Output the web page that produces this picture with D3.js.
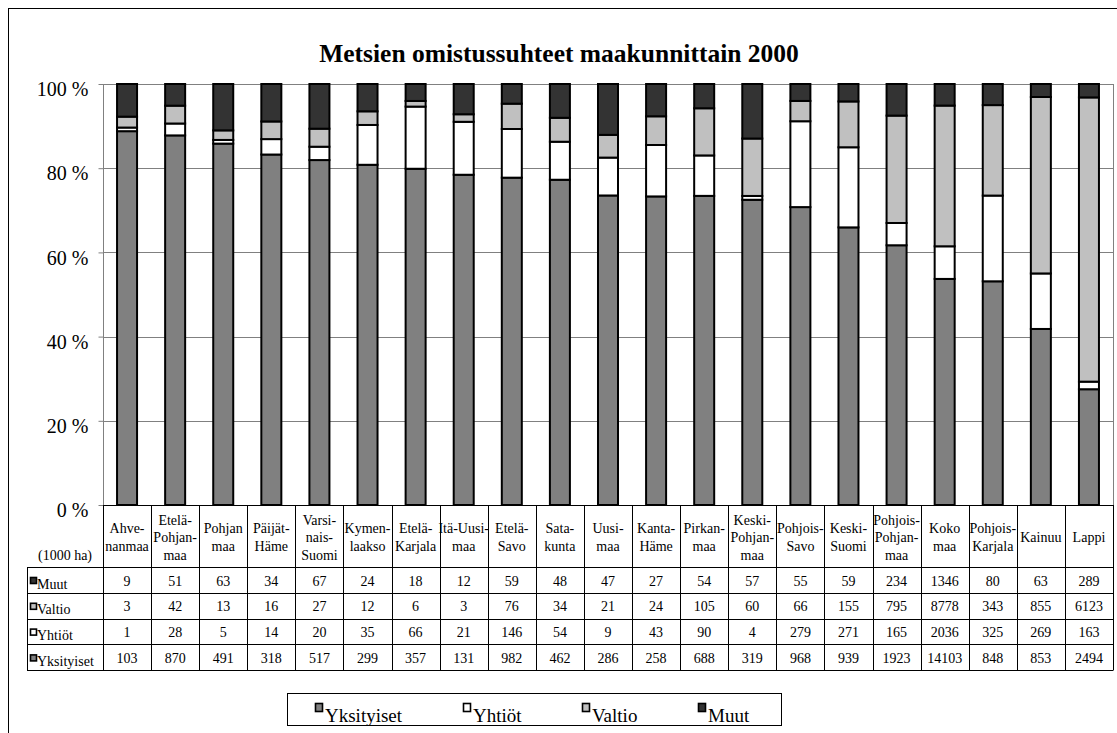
<!DOCTYPE html>
<html>
<head>
<meta charset="utf-8">
<script src="https://cdn.jsdelivr.net/npm/d3@7"></script>
<style>
  html, body { margin: 0; padding: 0; background: #fff; }
  svg { display: block; }
</style>
</head>
<body>
<svg id="chart" width="1117" height="733"></svg>
<script>
// ---- Data ----
const categories = ["Ahvenanmaa","Etelä-Pohjanmaa","Pohjanmaa","Päijät-Häme","Varsinais-Suomi","Kymenlaakso","Etelä-Karjala","Itä-Uusimaa","Etelä-Savo","Satakunta","Uusimaa","Kanta-Häme","Pirkanmaa","Keski-Pohjanmaa","Pohjois-Savo","Keski-Suomi","Pohjois-Pohjanmaa","Koko maa","Pohjois-Karjala","Kainuu","Lappi"];
const categoryLines = [["Ahve-","nanmaa"],["Etelä-","Pohjan-","maa"],["Pohjan","maa"],["Päijät-","Häme"],["Varsi-","nais-","Suomi"],["Kymen-","laakso"],["Etelä-","Karjala"],["Itä-Uusi-","maa"],["Etelä-","Savo"],["Sata-","kunta"],["Uusi-","maa"],["Kanta-","Häme"],["Pirkan-","maa"],["Keski-","Pohjan-","maa"],["Pohjois-","Savo"],["Keski-","Suomi"],["Pohjois-","Pohjan-","maa"],["Koko","maa"],["Pohjois-","Karjala"],["Kainuu"],["Lappi"]];
// table values (1000 ha)
const yksityiset = [103,870,491,318,517,299,357,131,982,462,286,258,688,319,968,939,1923,14103,848,853,2494];
const yhtiot     = [1,28,5,14,20,35,66,21,146,54,9,43,90,4,279,271,165,2036,325,269,163];
const valtio     = [3,42,13,16,27,12,6,3,76,34,21,24,105,60,66,155,795,8778,343,855,6123];
const muut       = [9,51,63,34,67,24,18,12,59,48,47,27,54,57,55,59,234,1346,80,63,289];
// the bars of the original use ~35 for Uusimaa "Yhtiöt" (the table prints 9)
const yhtiotBars = [1,28,5,14,20,35,66,21,146,54,35,43,90,4,279,271,165,2036,325,269,163];
const seriesNames = ["Yksityiset","Yhtiöt","Valtio","Muut"];
const seriesColors = ["#808080","#ffffff","#c0c0c0","#333333"];
const yTicks = [0,20,40,60,80,100];
const tableRows = ["Muut","Valtio","Yhtiöt","Yksityiset"];
const title = "Metsien omistussuhteet maakunnittain 2000";
const unitLabel = "(1000 ha)";

// ---- Build ----
const FONT = '"Liberation Serif", "Times New Roman", serif';
const svg = d3.select("#chart");
const valuesBySeries = {"Yksityiset": yksityiset, "Yhtiöt": yhtiot, "Valtio": valtio, "Muut": muut};
const barValuesBySeries = {"Yksityiset": yksityiset, "Yhtiöt": yhtiotBars, "Valtio": valtio, "Muut": muut};
const colorOf = d3.scaleOrdinal().domain(seriesNames).range(seriesColors);
const rowsData = categories.map((c, i) => {
  const o = {cat: c};
  seriesNames.forEach(s => o[s] = barValuesBySeries[s][i]);
  return o;
});
const stacked = d3.stack().keys(seriesNames).offset(d3.stackOffsetExpand)(rowsData);

const pLeft = 103, pRight = 1113, pTop = 84, pBottom = 505;
const x = d3.scaleBand().domain(categories).range([pLeft, pRight]).paddingInner(0.584).paddingOuter(0.292);
const xCol = d3.scaleBand().domain(categories).range([pLeft, pRight]);
const y = d3.scaleLinear().domain([0, 1]).range([pBottom, pTop]);

function txt(sel, size, weight) {
  return sel.style("font-family", FONT).style("font-size", size + "px").style("font-weight", weight || "normal").attr("fill", "#000");
}

// outer frame
svg.append("rect").attr("x", 8.5).attr("y", 8.5).attr("width", 1130).attr("height", 740)
  .attr("fill", "none").attr("stroke", "#000").attr("stroke-width", 1);

// title
txt(svg.append("text").attr("x", 559).attr("y", 62).attr("text-anchor", "middle"), 25.5, "bold").text(title);

// gridlines
svg.append("g").selectAll("line").data(yTicks.filter(t => t > 0)).join("line")
  .attr("x1", pLeft).attr("x2", pRight)
  .attr("y1", d => Math.round(y(d / 100)) + 0.5).attr("y2", d => Math.round(y(d / 100)) + 0.5)
  .attr("stroke", "#808080").attr("stroke-width", 1);
svg.append("line").attr("x1", pRight + 0.5).attr("x2", pRight + 0.5).attr("y1", pTop).attr("y2", pBottom)
  .attr("stroke", "#808080");

// y axis
const yAxis = d3.axisLeft(y).tickValues(yTicks.map(t => t / 100)).tickFormat(d => Math.round(d * 100) + " %")
  .tickSize(5).tickPadding(10);
const gy = svg.append("g").attr("transform", `translate(${pLeft + 0.5},0)`).call(yAxis);
gy.select(".domain").attr("stroke", "#808080").attr("d", `M0,${pTop}V${pBottom}`);
gy.selectAll(".tick line").attr("stroke", "#808080");
txt(gy.selectAll(".tick text"), 20).attr("dy", "0.58em");

// bars
svg.append("g").selectAll("g").data(stacked).join("g")
  .attr("fill", d => colorOf(d.key))
  .selectAll("rect").data(d => d).join("rect")
  .attr("x", d => x(d.data.cat))
  .attr("width", x.bandwidth())
  .attr("y", d => y(d[1]))
  .attr("height", d => y(d[0]) - y(d[1]))
  .attr("stroke", "#000").attr("stroke-width", 2);

// ---- Data table ----
const headTop = 505, headBottom = 567;
const rowH = 25.8;
const tableLeft = 27;
const tg = svg.append("g");
const lineColor = "#000";
tg.append("line").attr("x1", pLeft).attr("x2", pRight).attr("y1", headTop + 0.5).attr("y2", headTop + 0.5).attr("stroke", lineColor);
d3.range(tableRows.length + 1).forEach(i => {
  const yy = Math.round(headBottom + i * rowH) + 0.5;
  tg.append("line").attr("x1", tableLeft).attr("x2", pRight).attr("y1", yy).attr("y2", yy).attr("stroke", lineColor);
});
const tableBottom = Math.round(headBottom + tableRows.length * rowH) + 0.5;
tg.append("line").attr("x1", tableLeft + 0.5).attr("x2", tableLeft + 0.5).attr("y1", headBottom).attr("y2", tableBottom).attr("stroke", lineColor);
categories.forEach(c => {
  const xx = Math.round(xCol(c)) + 0.5;
  tg.append("line").attr("x1", xx).attr("x2", xx).attr("y1", headTop).attr("y2", tableBottom).attr("stroke", lineColor);
});
tg.append("line").attr("x1", pRight + 0.5).attr("x2", pRight + 0.5).attr("y1", headTop).attr("y2", tableBottom).attr("stroke", lineColor);

// header labels
const headMid = (headTop + headBottom) / 2;
categories.forEach((c, i) => {
  const lines = categoryLines[i];
  const cx = xCol(c) + xCol.bandwidth() / 2;
  const t = txt(tg.append("text").attr("text-anchor", "middle"), 14);
  lines.forEach((ln, j) => {
    t.append("tspan").attr("x", cx).attr("y", headMid + 6 + (j - (lines.length - 1) / 2) * 17.5).text(ln);
  });
});
txt(tg.append("text").attr("x", 65).attr("y", 560).attr("text-anchor", "middle"), 14).text(unitLabel);

// rows
tableRows.forEach((s, r) => {
  const yTop = headBottom + r * rowH;
  tg.append("rect").attr("x", 30.5).attr("y", yTop + 10.5).attr("width", 6).attr("height", 6)
    .attr("fill", colorOf(s)).attr("stroke", "#000").attr("stroke-width", 1.6);
  txt(tg.append("text").attr("x", 37).attr("y", yTop + 21.5), 14).text(s);
  valuesBySeries[s].forEach((v, i) => {
    txt(tg.append("text").attr("x", xCol(categories[i]) + xCol.bandwidth() / 2).attr("y", yTop + 18.5)
      .attr("text-anchor", "middle"), 14).text(v);
  });
});

// ---- Legend ----
const lg = svg.append("g");
lg.append("rect").attr("x", 287.5).attr("y", 693.5).attr("width", 494).attr("height", 32)
  .attr("fill", "#fff").attr("stroke", "#000");
const legendX = [315, 463, 582, 698];
seriesNames.forEach((s, i) => {
  lg.append("rect").attr("x", legendX[i] + 0.5).attr("y", 703.5).attr("width", 7).attr("height", 8)
    .attr("fill", colorOf(s)).attr("stroke", "#000").attr("stroke-width", 1.6);
  txt(lg.append("text").attr("x", legendX[i] + 10).attr("y", 721.5), 19).text(s);
});
</script>
</body>
</html>
